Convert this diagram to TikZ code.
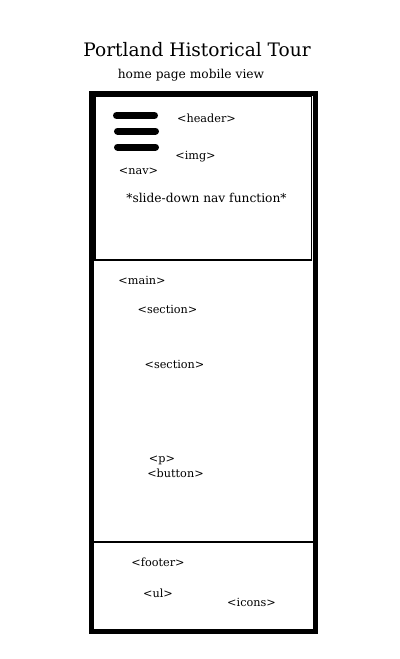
\documentclass[tikz,border=0pt]{standalone}
\usepackage{fontspec}
\setmainfont{DejaVu Serif}
\usetikzlibrary{positioning}

\tikzset{tag/.style={inner sep=0pt, font=\fontsize{8}{9}\selectfont},
         bar/.style={line width=7*0.025cm, line cap=round}}

\begin{document}
\begin{tikzpicture}[x=0.025cm,y=-0.025cm]
            \useasboundingbox (0,0) rectangle (400,659);

            \node[inner sep=0pt, font=\fontsize{13.2}{15}\selectfont] (title) at (197,50) {Portland Historical Tour};
            \node[inner sep=0pt, font=\fontsize{8.7}{10}\selectfont] (sub) at (191,75) {home page mobile view};

            % Rahmen
            \draw[line width=5*0.025cm] (91.5,93.5) rectangle (315.5,631.5);
            \draw[line width=1.8*0.025cm] (95,96.5) rectangle (311.5,260);
            \draw[line width=1.8*0.025cm] (94,542) -- (313,542);

            % Menue
            \draw[bar] (116.5,115.5) -- (154.5,115.5);
            \draw[bar] (117.5,131) -- (155.5,131);
            \draw[bar] (117.5,147) -- (155.5,147);

            \node[tag] (header) at (206.5,118) {<header>};
            \node[tag] (img) at (195.5,157) {<img>};
            \node[tag] (nav) at (138.5,171) {<nav>};
            \node[tag, font=\fontsize{8.7}{9}\selectfont] (slide) at (206.5,198) {*slide-down nav function*};

            \node[tag] (main) at (142,280) {<main>};
            \node[tag] (sec1) at (167.5,309) {<section>};
            \node[tag] (sec2) at (174.5,364) {<section>};
            \node[tag] (p) at (162,460) {<p>};
            \node[tag] (button) at (175.5,473) {<button>};

            \node[tag] (footer) at (158,562) {<footer>};
            \node[tag] (ul) at (158,593) {<ul>};
            \node[tag] (icons) at (251.5,602) {<icons>};
\end{tikzpicture}
\end{document}
